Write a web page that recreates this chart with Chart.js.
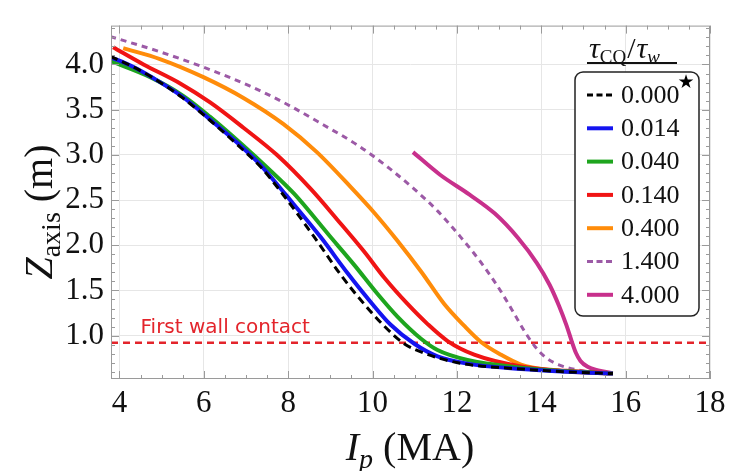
<!DOCTYPE html>
<html>
<head>
<meta charset="utf-8">
<script src="https://cdn.jsdelivr.net/npm/chart.js@4.4.1/dist/chart.umd.min.js"></script>
<style>
  body { margin: 0; background: #fff; }
  #wrap { width: 740px; height: 471px; position: relative; }
</style>
</head>
<body>
<div id="wrap"><canvas id="zaxisChart"></canvas></div>
<script>
// tau_CQ / tau_w values (legend)
var tauLabels = ['0.000', '0.014', '0.040', '0.140', '0.400', '1.400', '4.000'];

// Ip (MA) and Z_axis (m)
var ip0000 = [3.78, 4.3, 4.8, 5.5, 6.15, 6.8, 7.34, 7.83, 8.62, 9.25, 9.8, 10.28, 10.75, 11.23, 12.02, 13.52, 14.6, 15.7];
var z0000  = [4.09, 3.98, 3.85, 3.63, 3.38, 3.11, 2.87, 2.59, 2.09, 1.67, 1.35, 1.105, 0.91, 0.805, 0.70, 0.63, 0.60, 0.58];

var ip0014 = [3.8, 4.3, 4.8, 5.5, 6.15, 6.8, 7.34, 7.94, 8.77, 9.41, 9.96, 10.43, 10.99, 11.54, 12.25, 13.52, 14.6, 15.7];
var z0014  = [4.08, 3.98, 3.85, 3.64, 3.39, 3.13, 2.89, 2.56, 2.09, 1.69, 1.37, 1.12, 0.91, 0.77, 0.69, 0.63, 0.60, 0.58];

var ip0040 = [3.78, 4.73, 5.52, 6.15, 6.94, 7.5, 8.14, 8.97, 9.57, 10.12, 10.59, 11.15, 11.54, 12.25, 13.52, 14.6, 15.7];
var z0040  = [4.04, 3.86, 3.65, 3.42, 3.10, 2.86, 2.57, 2.11, 1.78, 1.46, 1.21, 0.965, 0.84, 0.73, 0.645, 0.605, 0.58];

var ip0140 = [3.85, 4.57, 5.44, 6.15, 6.94, 7.73, 8.54, 9.17, 9.8, 10.28, 10.83, 11.3, 11.78, 12.41, 13.52, 14.6, 15.7];
var z0140  = [4.19, 4.00, 3.79, 3.58, 3.30, 3.00, 2.62, 2.28, 1.93, 1.64, 1.35, 1.13, 0.94, 0.79, 0.66, 0.61, 0.58];

var ip0400 = [4.09, 4.96, 5.99, 6.94, 7.89, 8.68, 9.49, 10.04, 10.59, 11.15, 11.7, 12.17, 12.57, 13.04, 13.52, 14.2, 15.7];
var z0400  = [4.18, 4.06, 3.86, 3.63, 3.34, 3.03, 2.64, 2.36, 2.05, 1.71, 1.35, 1.11, 0.93, 0.79, 0.68, 0.62, 0.58];

var ip1400 = [3.78, 4.96, 5.99, 7.1, 7.97, 8.84, 9.67, 10.4, 10.99, 11.54, 12.09, 12.57, 12.96, 13.3, 13.6, 13.85, 14.1, 14.4, 15.0, 15.7];
var z1400  = [4.31, 4.14, 3.97, 3.76, 3.56, 3.33, 3.10, 2.85, 2.62, 2.38, 2.09, 1.81, 1.55, 1.29, 1.05, 0.88, 0.76, 0.68, 0.61, 0.585];

var ip4000 = [10.96, 11.6, 12.3, 12.9, 13.45, 13.9, 14.2, 14.42, 14.6, 14.72, 14.82, 14.93, 15.1, 15.35, 15.68];
var z4000  = [3.03, 2.78, 2.56, 2.35, 2.08, 1.80, 1.56, 1.33, 1.11, 0.94, 0.81, 0.72, 0.655, 0.615, 0.585];

var firstWallZ = 0.92;
var xTicks = [4, 6, 8, 10, 12, 14, 16, 18];
var yTicks = [1.0, 1.5, 2.0, 2.5, 3.0, 3.5, 4.0];

function pts(xs, ys) {
    return xs.map(function (x, i) { return { x: x, y: ys[i] }; });
}

var serif = "'Liberation Serif', 'Times New Roman', serif";

var seriesStyle = [
    { color: '#000000', dash: [8, 5], width: 3 },
    { color: '#1414f0', dash: [], width: 4 },
    { color: '#1ea51e', dash: [], width: 4 },
    { color: '#f01414', dash: [], width: 4 },
    { color: '#ff8c0a', dash: [], width: 4 },
    { color: '#9c5aa6', dash: [6, 5], width: 3 },
    { color: '#c8308c', dash: [], width: 4 }
];
var seriesData = [
    pts(ip0000, z0000), pts(ip0014, z0014), pts(ip0040, z0040), pts(ip0140, z0140),
    pts(ip0400, z0400), pts(ip1400, z1400), pts(ip4000, z4000)
];

var datasets = tauLabels.map(function (lab, i) {
    return {
        label: lab,
        data: seriesData[i],
        borderColor: seriesStyle[i].color,
        borderWidth: seriesStyle[i].width,
        borderDash: seriesStyle[i].dash,
        pointRadius: 0,
        cubicInterpolationMode: 'monotone',
        fill: false
    };
});
datasets.push({
    label: 'First wall contact',
    data: [{ x: 3.8, y: firstWallZ }, { x: 18, y: firstWallZ }],
    borderColor: '#e3242b',
    borderWidth: 2.5,
    borderDash: [7, 5],
    pointRadius: 0,
    order: 10
});

// frame, inner ticks, axis titles, wall label and legend
var decorations = {
    id: 'decorations',
    afterDatasetsDraw: function (chart) {
        var ctx = chart.ctx, a = chart.chartArea;
        var xs = chart.scales.x, ys = chart.scales.y;
        ctx.save();
        ctx.strokeStyle = '#9a9a9a';
        ctx.lineWidth = 1;
        ctx.strokeRect(a.left + 0.5, a.top + 0.5, a.right - a.left - 1, a.bottom - a.top - 1);
        ctx.beginPath();
        for (var v = 4; v <= 18.001; v += 0.5) {
            var px = Math.round(xs.getPixelForValue(v)) + 0.5;
            var len = (Math.abs(v % 2) < 0.01) ? 8 : 4;
            ctx.moveTo(px, a.bottom); ctx.lineTo(px, a.bottom - len);
            ctx.moveTo(px, a.top); ctx.lineTo(px, a.top + len);
        }
        for (var k = 6; k <= 44; k++) {
            var val = k / 10;
            var py = Math.round(ys.getPixelForValue(val)) + 0.5;
            var l2 = (k % 5 === 0) ? 8 : 4;
            ctx.moveTo(a.left, py); ctx.lineTo(a.left + l2, py);
            ctx.moveTo(a.right, py); ctx.lineTo(a.right - l2, py);
        }
        ctx.stroke();

        // wall label
        ctx.fillStyle = '#e3242b';
        ctx.font = "20px 'DejaVu Sans', Verdana, sans-serif";
        ctx.textBaseline = 'alphabetic';
        ctx.textAlign = 'left';
        ctx.fillText('First wall contact', xs.getPixelForValue(4.5), ys.getPixelForValue(firstWallZ) - 10);

        ctx.restore();
    },
    afterDraw: function (chart) {
        var ctx = chart.ctx;
        ctx.save();
        ctx.fillStyle = '#111';
        ctx.textBaseline = 'alphabetic';

        // x title: I_p (MA)
        var big = 40, sub = 28;
        ctx.font = 'italic ' + big + 'px ' + serif;
        var wI = ctx.measureText('I').width;
        ctx.font = 'italic ' + sub + 'px ' + serif;
        var wp = ctx.measureText('p').width;
        ctx.font = big + 'px ' + serif;
        var wMA = ctx.measureText(' (MA)').width;
        var total = wI + wp + wMA;
        var x0 = 410 - total / 2, yb = 460;
        ctx.font = 'italic ' + big + 'px ' + serif;
        ctx.fillText('I', x0, yb);
        ctx.font = 'italic ' + sub + 'px ' + serif;
        ctx.fillText('p', x0 + wI, yb + 8);
        ctx.font = big + 'px ' + serif;
        ctx.fillText(' (MA)', x0 + wI + wp, yb);

        // y title: Z_axis (m)
        ctx.save();
        ctx.translate(52, 212);
        ctx.rotate(-Math.PI / 2);
        ctx.font = 'italic ' + big + 'px ' + serif;
        var wZ = ctx.measureText('Z').width;
        ctx.font = sub + 'px ' + serif;
        var wax = ctx.measureText('axis').width;
        ctx.font = big + 'px ' + serif;
        var wm = ctx.measureText(' (m)').width;
        var sx = -(wZ + wax + wm) / 2;
        ctx.font = 'italic ' + big + 'px ' + serif;
        ctx.fillText('Z', sx, 0);
        ctx.font = sub + 'px ' + serif;
        ctx.fillText('axis', sx + wZ, 8);
        ctx.font = big + 'px ' + serif;
        ctx.fillText(' (m)', sx + wZ + wax, 0);
        ctx.restore();

        // legend title tau_CQ / tau_w
        var tx = 589, ty = 58;
        ctx.font = 'italic 30px ' + serif;
        ctx.fillText('\u03c4', tx, ty); tx += ctx.measureText('\u03c4').width;
        ctx.font = '19px ' + serif;
        ctx.fillText('CQ', tx, ty + 5); tx += ctx.measureText('CQ').width + 1;
        ctx.font = '30px ' + serif;
        ctx.fillText('/', tx, ty); tx += ctx.measureText('/').width + 1;
        ctx.font = 'italic 30px ' + serif;
        ctx.fillText('\u03c4', tx, ty); tx += ctx.measureText('\u03c4').width;
        ctx.font = 'italic 19px ' + serif;
        ctx.fillText('w', tx, ty + 5);
        ctx.fillRect(587, 62, 90, 2);

        // legend box
        var bx = 575, by = 72, bw = 124, bh = 244, r = 8;
        ctx.beginPath();
        ctx.moveTo(bx + r, by);
        ctx.arcTo(bx + bw, by, bx + bw, by + bh, r);
        ctx.arcTo(bx + bw, by + bh, bx, by + bh, r);
        ctx.arcTo(bx, by + bh, bx, by, r);
        ctx.arcTo(bx, by, bx + bw, by, r);
        ctx.closePath();
        ctx.fillStyle = '#fff';
        ctx.fill();
        ctx.strokeStyle = '#222';
        ctx.lineWidth = 1.5;
        ctx.stroke();

        ctx.font = '26px ' + serif;
        ctx.textBaseline = 'middle';
        for (var i = 0; i < tauLabels.length; i++) {
            var ry = 95 + i * 33.3;
            var st = seriesStyle[i];
            ctx.beginPath();
            ctx.strokeStyle = st.color;
            ctx.lineWidth = st.width;
            ctx.setLineDash(st.dash.length ? [6, 3.5] : []);
            ctx.moveTo(587, ry);
            ctx.lineTo(613, ry);
            ctx.stroke();
            ctx.setLineDash([]);
            ctx.fillStyle = '#111';
            ctx.fillText(tauLabels[i], 621, ry + 1);
        }
        ctx.font = "19px 'DejaVu Sans', sans-serif";
        ctx.fillStyle = '#000';
        ctx.textAlign = 'center';
        ctx.fillText('\u2605', 686, 83);
        ctx.restore();
    }
};

var ctxZ = document.getElementById('zaxisChart').getContext('2d');
var zaxisChart = new Chart(ctxZ, {
    type: 'line',
    plugins: [decorations],
    data: { datasets: datasets },
    options: {
        responsive: true,
        maintainAspectRatio: false,
        animation: false,
        layout: { padding: { top: 10, right: 30, left: 0, bottom: 0 } },
        plugins: {
            legend: { display: false },
            title: { display: false },
            tooltip: { enabled: false }
        },
        scales: {
            x: {
                type: 'linear',
                min: 3.8,
                max: 18,
                afterBuildTicks: function (s) { s.ticks = xTicks.map(function (v) { return { value: v }; }); },
                afterFit: function (s) { s.height = 92; },
                grid: { color: '#e6e6e6', drawTicks: false },
                border: { display: false },
                ticks: {
                    font: { family: serif, size: 31 },
                    color: '#111',
                    padding: 6,
                    maxRotation: 0,
                    autoSkip: false
                }
            },
            y: {
                type: 'linear',
                min: 0.52,
                max: 4.43,
                afterBuildTicks: function (s) { s.ticks = yTicks.map(function (v) { return { value: v }; }); },
                afterFit: function (s) { s.width = 111; },
                grid: { color: '#e6e6e6', drawTicks: false },
                border: { display: false },
                ticks: {
                    font: { family: serif, size: 31 },
                    color: '#111',
                    padding: 7,
                    autoSkip: false,
                    callback: function (v) { return Number(v).toFixed(1); }
                }
            }
        }
    }
});
</script>
</body>
</html>
